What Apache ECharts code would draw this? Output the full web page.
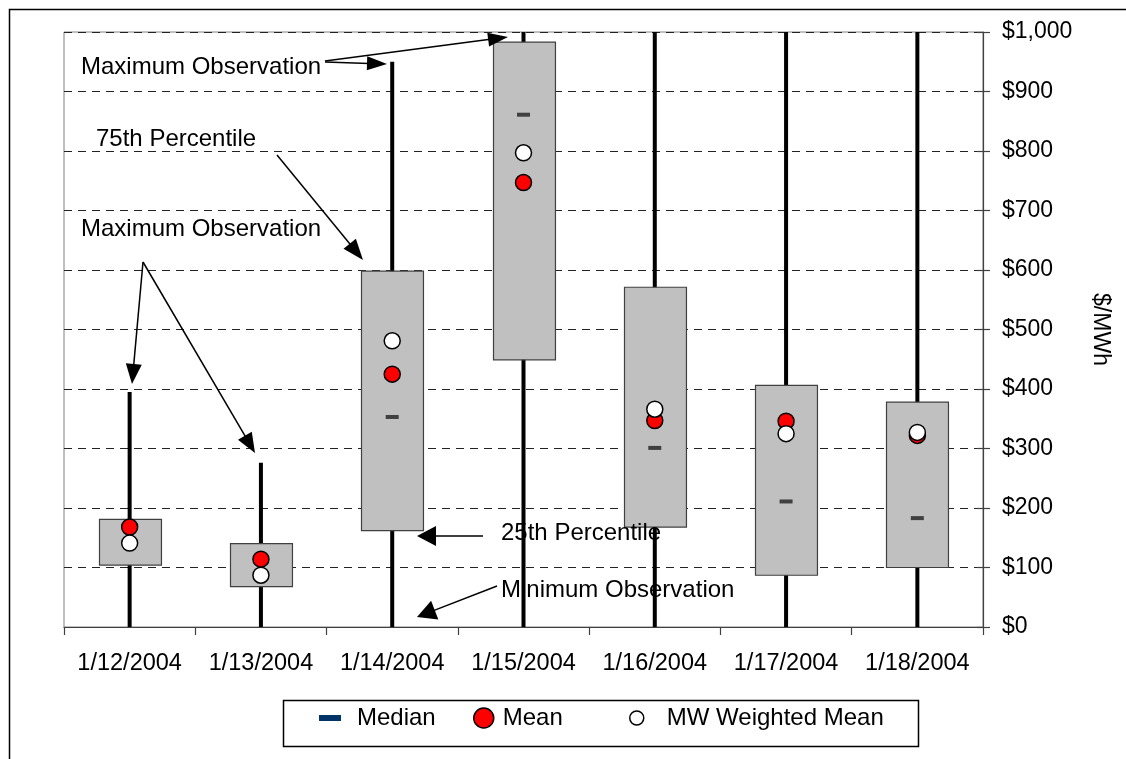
<!DOCTYPE html>
<html>
<head>
<meta charset="utf-8">
<script src="https://cdn.jsdelivr.net/npm/echarts@6/dist/echarts.min.js"></script>
<style>html,body{margin:0;padding:0;background:#fff;}#chart{width:1126px;height:759px;}</style>
</head>
<body>
<div id="chart"></div>
<script>
// ---- data ----
const categories = ['1/12/2004','1/13/2004','1/14/2004','1/15/2004','1/16/2004','1/17/2004','1/18/2004'];
const minObs  = [0, 0, 0, 0, 0, 0, 0];
const q1      = [104, 68, 162, 449, 168, 87, 100];
const q3      = [181, 140, 598, 983, 571, 406, 378];
const maxObs  = [395, 276, 950, 1000, 1000, 1000, 1000];
const medians = [140, 111, 353, 861, 301, 211, 183];
const means   = [168, 114, 425, 747, 347, 346, 322];
const mwMeans = [141, 87, 481, 797, 366, 325, 327];
const yMin = 0, yMax = 1000, yStep = 100;
const yAxisName = '$/MWh';
const annotations = [
  'Maximum Observation', '75th Percentile', 'Maximum Observation',
  '25th Percentile', 'Minimum Observation'
];

const FONT = "'Liberation Sans', Arial, sans-serif";
const chart = echarts.init(document.getElementById('chart'), null, {renderer: 'canvas'});

function arrow(x1, y1, x2, y2, len, hw, lw) {
  const dx = x2 - x1, dy = y2 - y1, L = Math.hypot(dx, dy);
  const ux = dx / L, uy = dy / L;
  const bx = x2 - ux * len, by = y2 - uy * len;
  const px = -uy, py = ux;
  return [
    {type: 'line', z: 20, shape: {x1: x1, y1: y1, x2: bx + ux * 2, y2: by + uy * 2}, style: {stroke: '#000', lineWidth: lw}},
    {type: 'polygon', z: 20, shape: {points: [[x2, y2], [bx + px * hw, by + py * hw], [bx - px * hw, by - py * hw]]}, style: {fill: '#000'}}
  ];
}
function label(text, x, y) {
  return {type: 'text', z: 20, style: {text: text, x: x, y: y, fill: '#000', font: '24px ' + FONT, verticalAlign: 'middle', align: 'left'}};
}

const graphics = [
  {type: 'rect', z: 0, silent: true, shape: {x: 9.5, y: 9.5, width: 1300, height: 900}, style: {fill: 'none', stroke: '#000', lineWidth: 1.5}},
  {type: 'rect', z: 1, silent: true, shape: {x: 283.5, y: 700.5, width: 635, height: 46}, style: {fill: '#fff', stroke: '#000', lineWidth: 1.5}},
  label(annotations[0], 81, 67),
  label(annotations[1], 96, 139),
  label(annotations[2], 81, 229),
  label(annotations[3], 501, 533),
  label(annotations[4], 501, 590),
  ...arrow(325, 62, 387, 64, 20, 7, 1.5),
  ...arrow(325, 61, 508, 37, 20, 7, 1.5),
  ...arrow(277, 155, 363, 260, 21, 8, 1.5),
  ...arrow(143, 262, 132, 384, 20, 8, 1.5),
  ...arrow(143, 262, 255, 453, 20, 8, 1.5),
  ...arrow(483, 536, 417, 536, 19, 10, 1.5),
  ...arrow(497, 586, 417, 617, 19, 10, 1.5)
];

const option = {
  backgroundColor: '#fff',
  animation: false,
  textStyle: {fontFamily: FONT},
  grid: {left: 64, right: 143, top: 32, bottom: 132, show: true, borderColor: '#808080', borderWidth: 1, backgroundColor: '#fff', containLabel: false},
  xAxis: {
    type: 'category', data: categories, boundaryGap: true,
    axisLine: {show: true, lineStyle: {color: '#404040', width: 1.2}},
    axisTick: {show: true, length: 8, lineStyle: {color: '#404040', width: 1.2}},
    axisLabel: {color: '#000', fontSize: 23.5, fontFamily: FONT, margin: 25, interval: 0},
    splitLine: {show: false}
  },
  yAxis: [{
    type: 'value', position: 'right', min: yMin, max: yMax, interval: yStep,
    name: yAxisName, nameLocation: 'middle', nameRotate: -90, nameGap: 106,
    nameTextStyle: {color: '#000', fontSize: 23, fontFamily: FONT},
    axisLine: {show: true, lineStyle: {color: '#404040', width: 1.2}},
    axisTick: {show: true, length: 7, lineStyle: {color: '#404040', width: 1.2}},
    axisLabel: {color: '#000', fontSize: 23, fontFamily: FONT, margin: 19,
      formatter: v => '$' + v.toLocaleString('en-US')},
    splitLine: {show: true, lineStyle: {color: '#222', width: 1, type: [8, 6]}}
  }, {
    type: 'value', position: 'right', min: yMin, max: yMax, interval: yStep,
    axisLine: {show: false},
    axisTick: {show: true, inside: true, length: 6, lineStyle: {color: '#404040', width: 1.2}},
    axisLabel: {show: false}, splitLine: {show: false}
  }],
  legend: [
    {data: [{name: 'Median', icon: 'rect', itemStyle: {color: '#003366', borderWidth: 0}}],
     left: 319, top: 706, padding: 0, itemWidth: 22, itemHeight: 6, selectedMode: false, z: 10,
     textStyle: {color: '#000', fontSize: 24, fontFamily: FONT, padding: [0, 0, 0, 11]}},
    {data: [{name: 'Mean', icon: 'circle', itemStyle: {color: '#ff0000', borderColor: '#000', borderWidth: 1.5}}],
     left: 473, top: 706, padding: 0, itemWidth: 20, itemHeight: 20, selectedMode: false, z: 10,
     textStyle: {color: '#000', fontSize: 24, fontFamily: FONT, padding: [0, 0, 0, 4]}},
    {data: [{name: 'MW Weighted Mean', icon: 'circle', itemStyle: {color: '#fff', borderColor: '#000', borderWidth: 1.5}}],
     left: 629, top: 706, padding: 0, itemWidth: 14, itemHeight: 14, selectedMode: false, z: 10,
     textStyle: {color: '#000', fontSize: 24, fontFamily: FONT, padding: [0, 0, 0, 18]}}
  ],
  graphic: graphics,
  series: [
    {
      name: 'Range', type: 'custom', z: 2,
      data: categories.map((c, i) => [i, minObs[i], q1[i], q3[i], maxObs[i]]),
      encode: {x: 0, y: [1, 2, 3, 4]},
      renderItem: function (params, api) {
        const x = api.value(0);
        const lo = api.coord([x, api.value(1)]);
        const b1 = api.coord([x, api.value(2)]);
        const b3 = api.coord([x, api.value(3)]);
        const hi = api.coord([x, api.value(4)]);
        const w = api.size([1, 0])[0] * 0.472;
        return {type: 'group', children: [
          {type: 'line', shape: {x1: lo[0], y1: lo[1], x2: hi[0], y2: hi[1]}, style: {stroke: '#000', lineWidth: 4}},
          {type: 'rect', shape: {x: Math.round(lo[0] - w / 2) + 0.5, y: b3[1], width: w, height: b1[1] - b3[1]},
           style: {fill: '#c0c0c0', stroke: '#404040', lineWidth: 1.2}}
        ]};
      }
    },
    {name: 'Median', type: 'scatter', z: 3, data: medians, symbol: 'rect', symbolSize: [13, 4],
     itemStyle: {color: '#404040', opacity: 1}},
    {name: 'Mean', type: 'scatter', z: 4, data: means, symbol: 'circle', symbolSize: 16,
     itemStyle: {color: '#ff0000', borderColor: '#000', borderWidth: 1.5, opacity: 1}},
    {name: 'MW Weighted Mean', type: 'scatter', z: 5, data: mwMeans, symbol: 'circle', symbolSize: 16,
     itemStyle: {color: '#fff', borderColor: '#000', borderWidth: 1.5, opacity: 1}}
  ]
};
chart.setOption(option);
</script>
</body>
</html>
